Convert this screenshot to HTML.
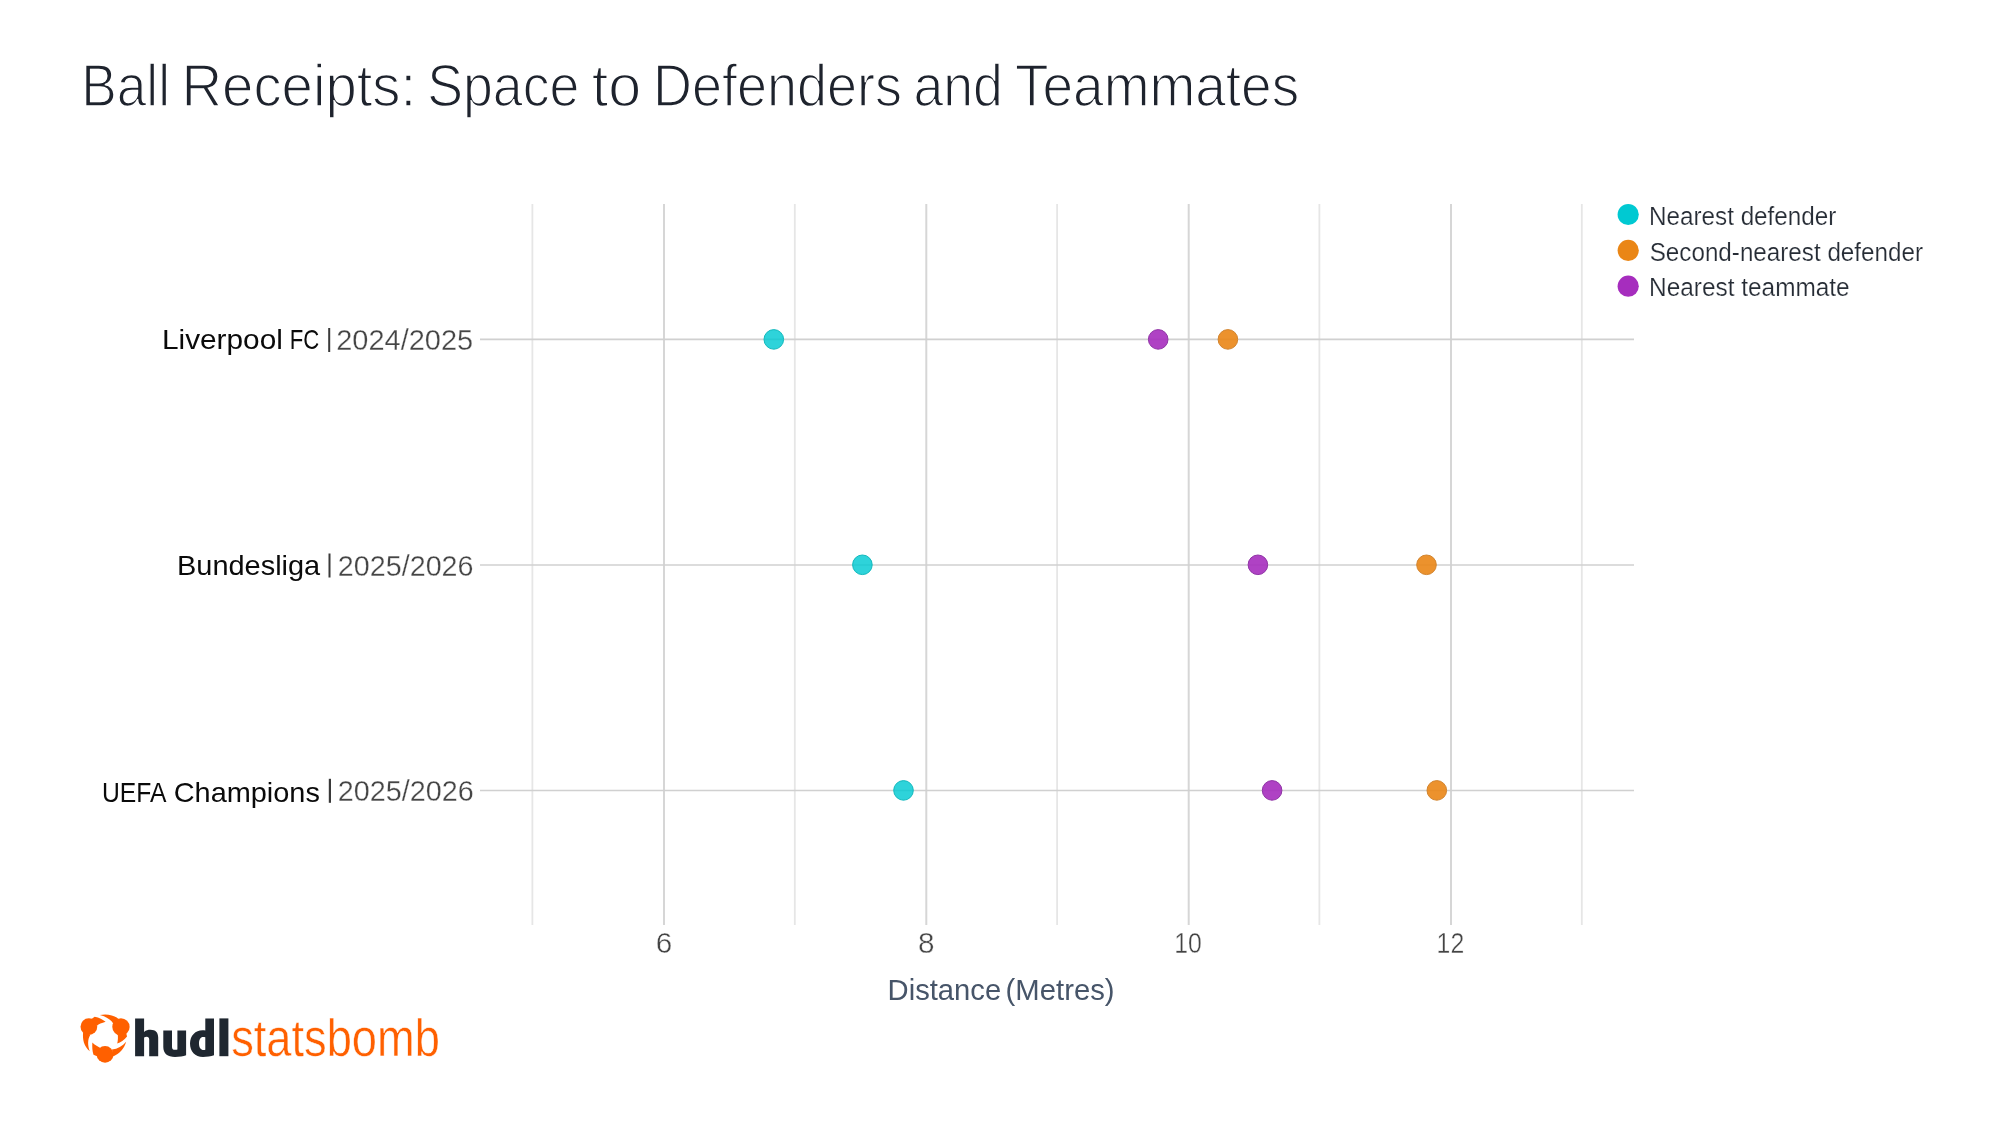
<!DOCTYPE html>
<html>
<head>
<meta charset="utf-8">
<style>
html,body{margin:0;padding:0;background:#fff;}
body{width:2000px;height:1125px;overflow:hidden;position:relative;}
svg{position:absolute;left:0;top:0;will-change:transform;}
text{font-family:"Liberation Sans",sans-serif;}
</style>
</head>
<body>
<svg width="2000" height="1125" viewBox="0 0 2000 1125">
  <rect x="0" y="0" width="2000" height="1125" fill="#ffffff"/>
  <!-- title -->
  <g font-size="59.3" fill="#1e232d" stroke="#fff" stroke-width="1.5">
    <text id="tw0" x="81.20" y="105.6" textLength="88.80" lengthAdjust="spacingAndGlyphs">Ball</text>
    <text id="tw1" x="181.40" y="105.6" textLength="234.80" lengthAdjust="spacingAndGlyphs">Receipts:</text>
    <text id="tw2" x="427.20" y="105.6" textLength="152.20" lengthAdjust="spacingAndGlyphs">Space</text>
    <text id="tw3" x="591.80" y="105.6" textLength="49.40" lengthAdjust="spacingAndGlyphs">to</text>
    <text id="tw4" x="653.00" y="105.6" textLength="249.00" lengthAdjust="spacingAndGlyphs">Defenders</text>
    <text id="tw5" x="913.40" y="105.6" textLength="89.60" lengthAdjust="spacingAndGlyphs">and</text>
    <text id="tw6" x="1015.00" y="105.6" textLength="284.20" lengthAdjust="spacingAndGlyphs">Teammates</text>
  </g>

  <!-- vertical grid -->
  <g stroke-width="2">
    <line x1="532.4" y1="204" x2="532.4" y2="925" stroke="#e6e6e6" stroke-width="1.8"/>
    <line x1="664" y1="204" x2="664" y2="925" stroke="#d6d6d6"/>
    <line x1="794.8" y1="204" x2="794.8" y2="925" stroke="#e6e6e6" stroke-width="1.8"/>
    <line x1="926.3" y1="204" x2="926.3" y2="925" stroke="#d6d6d6"/>
    <line x1="1057.1" y1="204" x2="1057.1" y2="925" stroke="#e6e6e6" stroke-width="1.8"/>
    <line x1="1188.7" y1="204" x2="1188.7" y2="925" stroke="#d6d6d6"/>
    <line x1="1319.4" y1="204" x2="1319.4" y2="925" stroke="#e6e6e6" stroke-width="1.8"/>
    <line x1="1451" y1="204" x2="1451" y2="925" stroke="#d6d6d6"/>
    <line x1="1581.8" y1="204" x2="1581.8" y2="925" stroke="#e6e6e6" stroke-width="1.8"/>
  </g>
  <!-- horizontal lines -->
  <g stroke="#d0d0d0" stroke-width="1.6">
    <line x1="480" y1="339.4" x2="1634" y2="339.4"/>
    <line x1="480" y1="565" x2="1634" y2="565"/>
    <line x1="480" y1="790.5" x2="1634" y2="790.5"/>
  </g>

  <!-- dots -->
  <g fill-opacity="0.9" stroke-width="1">
    <circle cx="773.8" cy="339.4" r="9.8" fill-opacity="0.82" fill="#00c9d2" stroke="#12b9bd"/>
    <circle cx="1158.2" cy="339.4" r="9.8" fill="#a62dbe" stroke="#9034a6"/>
    <circle cx="1227.9" cy="339.4" r="9.8" fill="#ea8616" stroke="#d2842e"/>
    <circle cx="862.4" cy="564.8" r="9.8" fill-opacity="0.82" fill="#00c9d2" stroke="#12b9bd"/>
    <circle cx="1257.9" cy="564.8" r="9.8" fill="#a62dbe" stroke="#9034a6"/>
    <circle cx="1426.5" cy="564.8" r="9.8" fill="#ea8616" stroke="#d2842e"/>
    <circle cx="903.5" cy="790.4" r="9.8" fill-opacity="0.82" fill="#00c9d2" stroke="#12b9bd"/>
    <circle cx="1272.1" cy="790.4" r="9.8" fill="#a62dbe" stroke="#9034a6"/>
    <circle cx="1436.8" cy="790.4" r="9.8" fill="#ea8616" stroke="#d2842e"/>
  </g>

  <!-- y labels -->
  <g font-size="27.6" fill="#0a0a0a">
    <text id="n0a" x="162.00" y="349.2" textLength="120.80" lengthAdjust="spacingAndGlyphs">Liverpool</text>
    <text id="n0b" x="289.70" y="349.2" textLength="29.50" lengthAdjust="spacingAndGlyphs">FC</text>
    <text id="n1" x="177.00" y="574.9" textLength="143.20" lengthAdjust="spacingAndGlyphs">Bundesliga</text>
    <text id="n2a" x="102.00" y="801.7" textLength="64.50" lengthAdjust="spacingAndGlyphs">UEFA</text>
    <text id="n2b" x="173.70" y="801.7" textLength="146.20" lengthAdjust="spacingAndGlyphs">Champions</text>
  </g>
  <g fill="#3a3a3a">
    <rect x="328.2" y="328" width="2" height="24"/>
    <rect x="328.5" y="553.5" width="2" height="24"/>
    <rect x="328.8" y="778.8" width="2.2" height="24"/>
  </g>
  <g font-size="29.9" fill="#454545" stroke="#fff" stroke-width="0.3">
    <text id="y0" x="336.25" y="350.15" textLength="136.90" lengthAdjust="spacingAndGlyphs">2024/2025</text>
    <text id="y1" x="337.85" y="575.55" textLength="135.70" lengthAdjust="spacingAndGlyphs">2025/2026</text>
    <text id="y2" x="337.85" y="800.95" textLength="135.90" lengthAdjust="spacingAndGlyphs">2025/2026</text>
  </g>

  <!-- x ticks -->
  <g font-size="29.7" fill="#444444" text-anchor="middle" stroke="#fff" stroke-width="0.4">
    <text x="664" y="952.7">6</text>
    <text x="926.3" y="952.7">8</text>
    <text x="1188" y="952.7" textLength="27.6" lengthAdjust="spacingAndGlyphs">10</text>
    <text x="1450.4" y="952.7" textLength="27.6" lengthAdjust="spacingAndGlyphs">12</text>
  </g>
  <g font-size="29.7" fill="#475569">
    <text id="a0" x="887.60" y="1000" textLength="113.60" lengthAdjust="spacingAndGlyphs">Distance</text>
    <text id="a1" x="1005.60" y="1000" textLength="109.00" lengthAdjust="spacingAndGlyphs">(Metres)</text>
  </g>

  <!-- legend -->
  <circle cx="1628.2" cy="214.5" r="10.6" fill="#00c9d2"/>
  <circle cx="1628.2" cy="250.4" r="10.6" fill="#ea8616"/>
  <circle cx="1628.2" cy="286.2" r="10.6" fill="#a62dbe"/>
  <g font-size="25.1" fill="#262c35" stroke="#fff" stroke-width="0.2">
    <text id="l0" x="1649.10" y="224.5" textLength="187.20" lengthAdjust="spacingAndGlyphs">Nearest defender</text>
    <text id="l1" x="1649.70" y="260.5" textLength="273.30" lengthAdjust="spacingAndGlyphs">Second-nearest defender</text>
    <text id="l2" x="1649.10" y="296.1" textLength="200.60" lengthAdjust="spacingAndGlyphs">Nearest teammate</text>
  </g>

  <!-- logo -->
  <g id="logo">
    <g fill="#ff6000" transform="translate(75,1005) scale(0.057803)">
      <circle cx="240" cy="375" r="145"/>
      <circle cx="795" cy="380" r="150"/>
      <circle cx="520" cy="855" r="145"/>
      <path d="M140,470 C130,600 150,700 255,800 C220,700 215,600 265,515 Z"/>
      <path d="M280,245 L340,205 C420,220 480,255 530,290 C460,310 410,330 380,360 Z"/>
      <path d="M760,245 C680,180 560,150 430,175 C540,200 620,250 665,325 Z"/>
      <path d="M885,480 L900,545 C850,610 790,645 730,665 C745,610 745,560 740,510 Z"/>
      <path d="M640,770 C740,760 820,710 885,635 C850,760 770,840 660,890 Z"/>
      <path d="M440,745 C390,720 340,690 300,650 C295,730 300,800 320,860 L380,885 Z"/>
    </g>
    <g fill="#1f2730">
            <path d="M135.1,1018.4 L144.1,1018.4 L144.1,1032 C146,1030.2 148,1029.8 150.5,1029.8 C155.5,1029.8 158.2,1032.5 158.2,1037.5 L158.2,1056.2 L149.2,1056.2 L149.2,1039.5 C149.2,1037.5 148.2,1036.7 146.8,1036.7 C145.8,1036.7 144.8,1037 144.1,1037.5 L144.1,1056.2 L135.1,1056.2 Z"/>
      <path d="M163.3,1030.4 L172,1030.4 L172,1047 C172,1049 173,1049.8 175,1049.8 C176.2,1049.8 177,1049.6 177.4,1049.4 L177.4,1030.4 L186.1,1030.4 L186.1,1055.3 C183.5,1056.3 179,1056.9 175,1056.9 C167.5,1056.9 163.3,1053.5 163.3,1047 Z"/>
      <path fill-rule="evenodd" d="M205.3,1018.4 L214,1018.4 L214,1055.3 C211,1056.4 206.5,1056.9 203,1056.9 C195,1056.9 190,1051.5 190,1043.5 C190,1035.5 195.5,1030.2 202.5,1030.2 C203.6,1030.2 204.6,1030.4 205.3,1030.6 Z M205.3,1037.2 C204.5,1037 203.8,1036.9 203,1036.9 C200.6,1036.9 199,1039.3 199,1043.4 C199,1047.6 200.8,1049.9 203.6,1049.9 C204.3,1049.9 204.9,1049.8 205.3,1049.7 Z"/>
      <rect x="219.4" y="1018.4" width="9" height="37.8"/>
    </g>
    <text x="231.15" y="1056.45" font-size="52.6" fill="#ff6000" stroke="#fff" stroke-width="0.5" textLength="208.7" lengthAdjust="spacingAndGlyphs">statsbomb</text>
  </g>
</svg>
</body>
</html>
